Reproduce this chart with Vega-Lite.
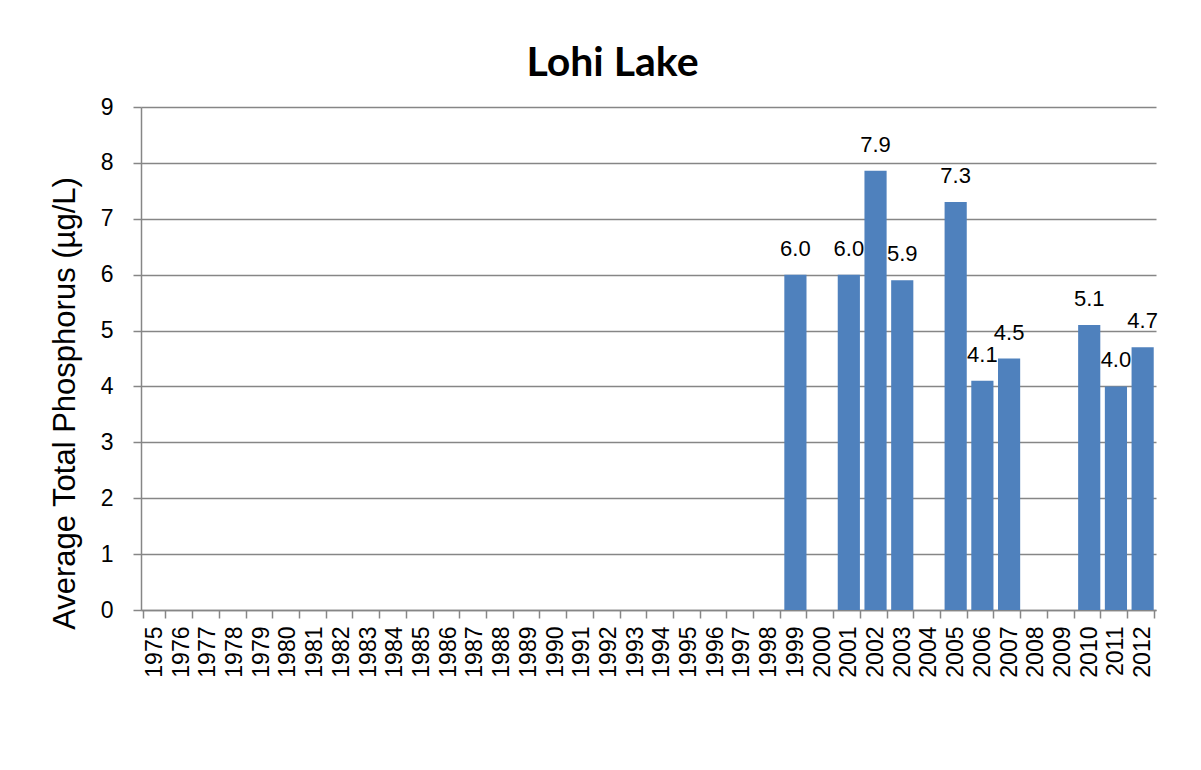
{
  "$schema": "https://vega.github.io/schema/vega-lite/v6.json",
  "width": 1015,
  "height": 503,
  "autosize": {"type": "none"},
  "padding": {"left": 141, "top": 107, "right": 45, "bottom": 160},
  "background": "white",
  "title": {
    "text": "Lohi Lake",
    "font": "Lato",
    "fontSize": 41,
    "fontWeight": "bold",
    "color": "#000000",
    "anchor": "middle",
    "baseline": "alphabetic",
    "offset": -21,
    "dx": -36
  },
  "data": {
    "values": [
      {"year": "1975", "tp": null}, {"year": "1976", "tp": null}, {"year": "1977", "tp": null},
      {"year": "1978", "tp": null}, {"year": "1979", "tp": null}, {"year": "1980", "tp": null},
      {"year": "1981", "tp": null}, {"year": "1982", "tp": null}, {"year": "1983", "tp": null},
      {"year": "1984", "tp": null}, {"year": "1985", "tp": null}, {"year": "1986", "tp": null},
      {"year": "1987", "tp": null}, {"year": "1988", "tp": null}, {"year": "1989", "tp": null},
      {"year": "1990", "tp": null}, {"year": "1991", "tp": null}, {"year": "1992", "tp": null},
      {"year": "1993", "tp": null}, {"year": "1994", "tp": null}, {"year": "1995", "tp": null},
      {"year": "1996", "tp": null}, {"year": "1997", "tp": null}, {"year": "1998", "tp": null},
      {"year": "1999", "tp": 6.0}, {"year": "2000", "tp": null}, {"year": "2001", "tp": 6.0},
      {"year": "2002", "tp": 7.86}, {"year": "2003", "tp": 5.9}, {"year": "2004", "tp": null},
      {"year": "2005", "tp": 7.3}, {"year": "2006", "tp": 4.1}, {"year": "2007", "tp": 4.5},
      {"year": "2008", "tp": null}, {"year": "2009", "tp": null}, {"year": "2010", "tp": 5.1},
      {"year": "2011", "tp": 4.0}, {"year": "2012", "tp": 4.7}
    ]
  },
  "encoding": {
    "x": {
      "field": "year",
      "type": "ordinal",
      "sort": null,
      "scale": {
        "domain": ["1975","1976","1977","1978","1979","1980","1981","1982","1983","1984","1985","1986","1987","1988","1989","1990","1991","1992","1993","1994","1995","1996","1997","1998","1999","2000","2001","2002","2003","2004","2005","2006","2007","2008","2009","2010","2011","2012"],
        "paddingInner": 0.17,
        "paddingOuter": 0.085
      },
      "axis": {
        "title": null,
        "labelAngle": -90,
        "labelFont": "Liberation Sans",
        "labelFontSize": 23,
        "labelColor": "#000000",
        "labelPadding": 8,
        "tickBand": "extent",
        "tickSize": 8,
        "tickColor": "#868686",
        "tickWidth": 1.5,
        "domainColor": "#868686",
        "domainWidth": 1.5,
        "grid": false
      }
    },
    "y": {
      "field": "tp",
      "type": "quantitative",
      "scale": {"domain": [0, 9], "nice": false},
      "axis": {
        "title": "Average Total Phosphorus (µg/L)",
        "titleFont": "Liberation Sans",
        "titleFontSize": 31,
        "titleFontWeight": "normal",
        "titleColor": "#000000",
        "titleY": 296,
        "titleX": -76,
        "titleAngle": -90,
        "titleAlign": "center",
        "titleBaseline": "middle",
        "values": [0, 1, 2, 3, 4, 5, 6, 7, 8, 9],
        "labelFont": "Liberation Sans",
        "labelFontSize": 23,
        "labelColor": "#000000",
        "labelPadding": 20,
        "tickSize": 8,
        "tickColor": "#868686",
        "tickWidth": 1.5,
        "domainColor": "#868686",
        "domainWidth": 1.5,
        "gridColor": "#868686",
        "gridWidth": 1.5
      }
    }
  },
  "layer": [
    {"mark": {"type": "bar", "color": "#4F81BD"}},
    {
      "mark": {
        "type": "text",
        "font": "Liberation Sans",
        "fontSize": 22,
        "color": "#000000",
        "baseline": "alphabetic",
        "dy": -19
      },
      "encoding": {
        "text": {"field": "tp", "type": "quantitative", "format": ".1f"}
      }
    }
  ],
  "config": {"view": {"stroke": null}}
}
